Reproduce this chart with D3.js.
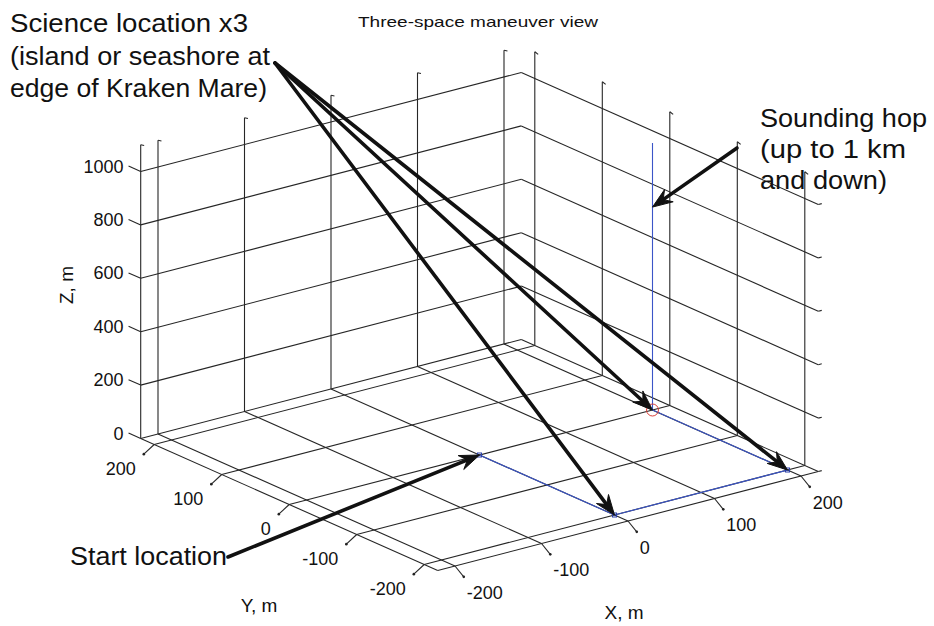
<!DOCTYPE html>
<html>
<head>
<meta charset="utf-8">
<script src="https://cdn.jsdelivr.net/npm/d3@7"></script>
<style>
  html, body { margin: 0; padding: 0; background: #fff; }
  svg { display: block; }
  text { font-family: "Liberation Sans", Arial, Helvetica, sans-serif; fill: #111; }
</style>
</head>
<body>
<script>
// ---- axis setup -------------------------------------------------------
const xLim = [-220, 220];
const yLim = [-220, 220];
const zLim = [0, 1100];
const xTicks = [-200, -100, 0, 100, 200];
const yTicks = [-200, -100, 0, 100, 200];
const zTicks = [0, 200, 400, 600, 800, 1000];

// ---- trajectory (metres) ---------------------------------------------
// start -> science 1 -> science 2 -> science 3 -> sounding hop up and down
const pathX = [0, 0, 200, 200, 200, 200];
const pathY = [0, -200, -200, 0, 0, 0];
const pathZ = [0, 0, 0, 0, 1000, 0];
const scienceStops = [1, 3, 2];   // indices into the path
const hopIndex = 3;
const hopArrowZ = 760;

// ---- annotation text --------------------------------------------------
const titleText = "Three-space maneuver view";
const scienceLines = ["Science location x3", "(island or seashore at", "edge of Kraken Mare)"];
const hopLines = ["Sounding hop", "(up to 1 km", "and down)"];
const startText = "Start location";

const W = 934, H = 626;
const svg = d3.select("body").append("svg").attr("width", W).attr("height", H);

// oblique 3-D view: each data axis maps to a screen vector
const cx = 479.5, cy = 455;
const sx = d3.scaleLinear().domain(xLim).range([-1, 1]);
const sy = d3.scaleLinear().domain(yLim).range([-1, 1]);
const sz = d3.scaleLinear().domain(zLim).range([0, -293.7]);
const ex = [190.3, -49.5];
const ey = [-148.5, -66];
function P(x, y, z) {
  const a = sx(x), b = sy(y);
  return [cx + a * ex[0] + b * ey[0], cy + a * ex[1] + b * ey[1] + sz(z)];
}
const line = d3.line();
const seg = (p, q) => line([P(...p), P(...q)]);

const gGrid = svg.append("g").attr("fill", "none").attr("stroke", "#262626").attr("stroke-width", 1.1);

// floor grid
xTicks.forEach(v => gGrid.append("path").attr("d", seg([v, yLim[0], 0], [v, yLim[1], 0])));
yTicks.forEach(v => gGrid.append("path").attr("d", seg([xLim[0], v, 0], [xLim[1], v, 0])));
// front floor edges (axis lines)
gGrid.append("path").attr("d", seg([xLim[0], yLim[0], 0], [xLim[1], yLim[0], 0]));
gGrid.append("path").attr("d", seg([xLim[0], yLim[0], 0], [xLim[0], yLim[1], 0]));

// back-left wall (y = max)
zTicks.forEach(v => gGrid.append("path").attr("d", seg([xLim[0], yLim[1], v], [xLim[1], yLim[1], v])));
xTicks.forEach(v => {
  gGrid.append("path").attr("d", seg([v, yLim[1], 0], [v, yLim[1], zLim[1]]));
  gGrid.append("path").attr("d", seg([v, yLim[1], zLim[1]], [v + 4, yLim[1], zLim[1] - 6]));
});
// back-right wall (x = max)
zTicks.forEach(v => {
  gGrid.append("path").attr("d", seg([xLim[1], yLim[1], v], [xLim[1], yLim[0], v]));
  gGrid.append("path").attr("d", seg([xLim[1], yLim[0], v], [xLim[1] + 4, yLim[0], v]));
});
yTicks.forEach(v => {
  gGrid.append("path").attr("d", seg([xLim[1], v, 0], [xLim[1], v, zLim[1]]));
  gGrid.append("path").attr("d", seg([xLim[1], v, zLim[1]], [xLim[1], v - 5, zLim[1] - 4]));
});
// z axis line at the left corner
gGrid.append("path").attr("d", seg([xLim[0], yLim[1], 0], [xLim[0], yLim[1], zLim[1]]));
gGrid.append("path").attr("d", seg([xLim[0], yLim[1], zLim[1]], [xLim[0] + 4, yLim[1], zLim[1] - 6]));

// ticks and tick labels
const gTicks = svg.append("g");
xTicks.forEach(v => {
  const a = P(v, yLim[0], 0), b = P(v, yLim[0] - 13, -26);
  gTicks.append("path").attr("d", line([a, b])).attr("stroke", "#262626").attr("stroke-width", 1.1);
  gTicks.append("circle").attr("cx", b[0]).attr("cy", b[1]).attr("r", 1.3).attr("fill", "#222");
  gTicks.append("text").attr("x", b[0] + 3).attr("y", b[1] + 22).attr("font-size", 18).text(v);
});
yTicks.forEach(v => {
  const a = P(xLim[0], v, 0), b = P(xLim[0] - 12, v, -26);
  gTicks.append("path").attr("d", line([a, b])).attr("stroke", "#262626").attr("stroke-width", 1.1);
  gTicks.append("circle").attr("cx", b[0]).attr("cy", b[1]).attr("r", 1.3).attr("fill", "#222");
  gTicks.append("text").attr("x", b[0] - 8).attr("y", b[1] + 21).attr("text-anchor", "end")
    .attr("font-size", 18).text(v);
});
zTicks.forEach(v => {
  const a = P(xLim[0], yLim[1], v), b = P(xLim[0], yLim[1] + 18, v);
  gTicks.append("path").attr("d", line([a, b])).attr("stroke", "#262626").attr("stroke-width", 1.1);
  gTicks.append("text").attr("x", b[0] - 5).attr("y", b[1] + 6.5).attr("text-anchor", "end")
    .attr("font-size", 18).text(v);
});

// axis titles
svg.append("text").attr("x", 259).attr("y", 612).attr("text-anchor", "middle").attr("font-size", 19).text("Y, m");
svg.append("text").attr("x", 624).attr("y", 619).attr("text-anchor", "middle").attr("font-size", 19).text("X, m");
svg.append("text").attr("transform", "translate(73,285) rotate(-90)").attr("text-anchor", "middle")
  .attr("font-size", 19).text("Z, m");
svg.append("text").attr("x", 358).attr("y", 27).attr("font-size", 15)
  .attr("textLength", 240).attr("lengthAdjust", "spacingAndGlyphs").text(titleText);

// trajectory
const pts = pathX.map((x, i) => P(x, pathY[i], pathZ[i]));
svg.append("path").attr("d", line(pts)).attr("fill", "none").attr("stroke", "#3b55c8").attr("stroke-width", 1.1);
[0, 1, 2].forEach(i => {
  svg.append("rect").attr("x", pts[i][0] - 2).attr("y", pts[i][1] - 2).attr("width", 4).attr("height", 4)
    .attr("fill", "none").attr("stroke", "#2a3fa8").attr("stroke-width", 1);
});
svg.append("circle").attr("cx", pts[hopIndex][0]).attr("cy", pts[hopIndex][1]).attr("r", 6)
  .attr("fill", "none").attr("stroke", "#d9403a").attr("stroke-width", 1);

// annotation arrows
const gArr = svg.append("g");
function arrow(tail, tip) {
  const dx = tip[0] - tail[0], dy = tip[1] - tail[1];
  const L = Math.hypot(dx, dy), ux = dx / L, uy = dy / L, nx = -uy, ny = ux;
  const len = 20, half = 7.5, notch = 13;
  const nb = [tip[0] - ux * notch, tip[1] - uy * notch];
  gArr.append("path").attr("d", line([tail, nb])).attr("stroke", "#111").attr("stroke-width", 3.6)
    .attr("fill", "none").attr("stroke-linecap", "round");
  const base = [tip[0] - ux * len, tip[1] - uy * len];
  gArr.append("path").attr("d", line([tip,
      [base[0] + nx * half, base[1] + ny * half], nb,
      [base[0] - nx * half, base[1] - ny * half]]) + "Z")
    .attr("fill", "#111").attr("stroke", "#111").attr("stroke-width", 1).attr("stroke-linejoin", "miter");
}
const scienceTail = [275, 63];
scienceStops.forEach(i => arrow(scienceTail, pts[i]));
arrow([737, 148], P(pathX[hopIndex], pathY[hopIndex], hopArrowZ));
arrow([228, 557], pts[0]);

// annotation text
const gTxt = svg.append("g").attr("font-size", 26);
const sciW = [238, 260, 257];
scienceLines.forEach((t, i) => gTxt.append("text").attr("x", 10).attr("y", 32 + i * 32.5)
  .attr("textLength", sciW[i]).attr("lengthAdjust", "spacingAndGlyphs").text(t));
const hopW = [167, 146, 127];
hopLines.forEach((t, i) => gTxt.append("text").attr("x", 760).attr("y", 127 + i * 31)
  .attr("textLength", hopW[i]).attr("lengthAdjust", "spacingAndGlyphs").text(t));
gTxt.append("text").attr("x", 70).attr("y", 565).attr("textLength", 157)
  .attr("lengthAdjust", "spacingAndGlyphs").text(startText);
</script>
</body>
</html>
